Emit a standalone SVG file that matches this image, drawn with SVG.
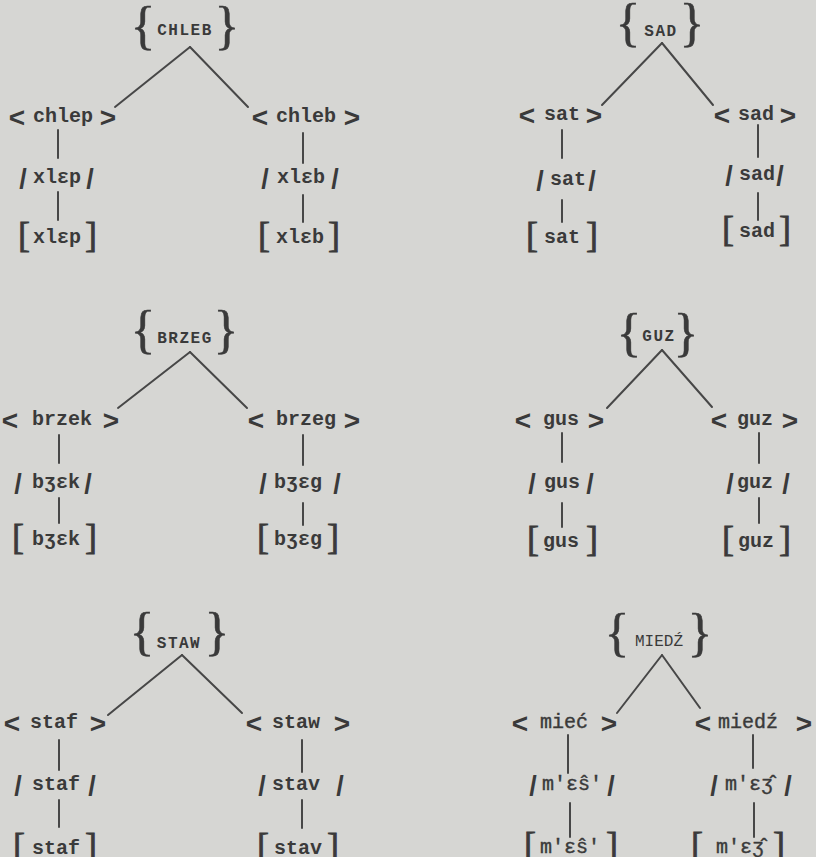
<svg xmlns="http://www.w3.org/2000/svg" width="816" height="857" viewBox="0 0 816 857">
<style>
.w{font-family:"Liberation Mono","DejaVu Sans Mono",monospace;font-size:20px;font-weight:bold;fill:#3a3a3a;text-anchor:middle}
.t{font-family:"Liberation Mono","DejaVu Sans Mono",monospace;font-size:20px;font-weight:normal;fill:#3a3a3a;stroke:#3a3a3a;stroke-width:0.4;text-anchor:middle}
.r{font-family:"Liberation Mono","DejaVu Sans Mono",monospace;font-size:16px;font-weight:bold;letter-spacing:1.5px;fill:#3a3a3a;text-anchor:middle}
.a{font-family:"Liberation Sans",Arial,sans-serif;font-size:28px;font-weight:bold;fill:#3a3a3a;text-anchor:middle}
.s{font-family:"Liberation Sans",Arial,sans-serif;font-size:27px;font-weight:bold;fill:#3a3a3a;text-anchor:middle}
.b{font-family:"Liberation Serif","Times New Roman",serif;font-size:36px;fill:#3a3a3a;stroke:#3a3a3a;stroke-width:0.8;text-anchor:middle}
.c{font-family:"Liberation Serif","Times New Roman",serif;font-size:52px;fill:#3a3a3a;stroke:#3a3a3a;stroke-width:0.5;text-anchor:middle}
.e{stroke:#474747;stroke-width:2;fill:none;stroke-linecap:round}
</style>
<rect x="0" y="0" width="816" height="857" fill="#d6d6d3"/>

<g id="connectors">
<line class="e" x1="190" y1="47" x2="115" y2="107"/>
<line class="e" x1="190" y1="47" x2="248" y2="107"/>
<line class="e" x1="58" y1="130" x2="58" y2="158"/>
<line class="e" x1="303" y1="133" x2="303" y2="163"/>
<line class="e" x1="58" y1="192" x2="58" y2="220"/>
<line class="e" x1="303" y1="195" x2="303" y2="222"/>
<line class="e" x1="662" y1="43" x2="602" y2="105"/>
<line class="e" x1="662" y1="43" x2="713" y2="105"/>
<line class="e" x1="562" y1="130" x2="562" y2="158"/>
<line class="e" x1="758" y1="125" x2="758" y2="157"/>
<line class="e" x1="562" y1="200" x2="562" y2="222"/>
<line class="e" x1="758" y1="193" x2="758" y2="220"/>
<line class="e" x1="190" y1="352" x2="118" y2="408"/>
<line class="e" x1="190" y1="352" x2="247" y2="408"/>
<line class="e" x1="59" y1="435" x2="59" y2="463"/>
<line class="e" x1="303" y1="435" x2="303" y2="465"/>
<line class="e" x1="59" y1="498" x2="59" y2="523"/>
<line class="e" x1="303" y1="503" x2="303" y2="525"/>
<line class="e" x1="662" y1="350" x2="607" y2="408"/>
<line class="e" x1="662" y1="350" x2="712" y2="407"/>
<line class="e" x1="562" y1="433" x2="562" y2="462"/>
<line class="e" x1="759" y1="433" x2="759" y2="463"/>
<line class="e" x1="562" y1="503" x2="562" y2="527"/>
<line class="e" x1="759" y1="498" x2="759" y2="523"/>
<line class="e" x1="182" y1="655" x2="108" y2="715"/>
<line class="e" x1="182" y1="655" x2="242" y2="713"/>
<line class="e" x1="59" y1="740" x2="59" y2="770"/>
<line class="e" x1="302" y1="740" x2="302" y2="772"/>
<line class="e" x1="59" y1="800" x2="59" y2="827"/>
<line class="e" x1="302" y1="800" x2="302" y2="828"/>
<line class="e" x1="662" y1="655" x2="617" y2="713"/>
<line class="e" x1="662" y1="655" x2="700" y2="708"/>
<line class="e" x1="568" y1="735" x2="568" y2="773"/>
<line class="e" x1="753" y1="735" x2="753" y2="768"/>
<line class="e" x1="570" y1="803" x2="570" y2="837"/>
<line class="e" x1="754" y1="803" x2="754" y2="837"/>
</g>

<g id="chleb-root"><text class="c" x="143" y="43">{</text><text class="r" x="185" y="35">CHLEB</text><text class="c" x="227" y="43">}</text></g>
<g id="chleb-m1"><text class="a" x="17" y="127">&lt;</text><text class="w" x="63" y="122">chlep</text><text class="a" x="108" y="127">&gt;</text></g>
<g id="chleb-m2"><text class="a" x="260" y="127">&lt;</text><text class="w" x="306" y="122">chleb</text><text class="a" x="352" y="127">&gt;</text></g>
<g id="chleb-p1"><text class="s" x="23" y="188">/</text><text class="w" x="57" y="183">xlɛp</text><text class="s" x="90" y="188">/</text></g>
<g id="chleb-p2"><text class="s" x="265" y="188">/</text><text class="w" x="301" y="183">xlɛb</text><text class="s" x="335" y="188">/</text></g>
<g id="chleb-f1"><text class="b" x="24" y="247">[</text><text class="w" x="57" y="243">xlɛp</text><text class="b" x="91" y="247">]</text></g>
<g id="chleb-f2"><text class="b" x="264" y="247">[</text><text class="w" x="300" y="243">xlɛb</text><text class="b" x="334" y="247">]</text></g>

<g id="sad-root"><text class="c" x="628" y="40">{</text><text class="r" x="661" y="36">SAD</text><text class="c" x="692" y="40">}</text></g>
<g id="sad-m1"><text class="a" x="527" y="125">&lt;</text><text class="w" x="562" y="120">sat</text><text class="a" x="594" y="125">&gt;</text></g>
<g id="sad-m2"><text class="a" x="722" y="125">&lt;</text><text class="w" x="756" y="120">sad</text><text class="a" x="788" y="125">&gt;</text></g>
<g id="sad-p1"><text class="s" x="540" y="190">/</text><text class="w" x="568" y="185">sat</text><text class="s" x="592" y="190">/</text></g>
<g id="sad-p2"><text class="s" x="729" y="185">/</text><text class="w" x="757" y="180">sad</text><text class="s" x="780" y="185">/</text></g>
<g id="sad-f1"><text class="b" x="532" y="247">[</text><text class="w" x="562" y="243">sat</text><text class="b" x="592" y="247">]</text></g>
<g id="sad-f2"><text class="b" x="728" y="241">[</text><text class="w" x="757" y="237">sad</text><text class="b" x="785" y="241">]</text></g>

<g id="brzeg-root"><text class="c" x="143" y="347">{</text><text class="r" x="185" y="343">BRZEG</text><text class="c" x="226" y="347">}</text></g>
<g id="brzeg-m1"><text class="a" x="10" y="430">&lt;</text><text class="w" x="62" y="425">brzek</text><text class="a" x="111" y="430">&gt;</text></g>
<g id="brzeg-m2"><text class="a" x="256" y="430">&lt;</text><text class="w" x="306" y="425">brzeg</text><text class="a" x="352" y="430">&gt;</text></g>
<g id="brzeg-p1"><text class="s" x="18" y="493">/</text><text class="w" x="56" y="488">bʒɛk</text><text class="s" x="88" y="493">/</text></g>
<g id="brzeg-p2"><text class="s" x="263" y="493">/</text><text class="w" x="298" y="488">bʒɛg</text><text class="s" x="337" y="493">/</text></g>
<g id="brzeg-f1"><text class="b" x="18" y="549">[</text><text class="w" x="56" y="545">bʒɛk</text><text class="b" x="91" y="549">]</text></g>
<g id="brzeg-f2"><text class="b" x="263" y="549">[</text><text class="w" x="298" y="545">bʒɛg</text><text class="b" x="333" y="549">]</text></g>

<g id="guz-root"><text class="c" x="629" y="350">{</text><text class="r" x="659" y="341">GUZ</text><text class="c" x="686" y="350">}</text></g>
<g id="guz-m1"><text class="a" x="523" y="430">&lt;</text><text class="w" x="561" y="425">gus</text><text class="a" x="596" y="430">&gt;</text></g>
<g id="guz-m2"><text class="a" x="719" y="430">&lt;</text><text class="w" x="755" y="425">guz</text><text class="a" x="790" y="430">&gt;</text></g>
<g id="guz-p1"><text class="s" x="532" y="493">/</text><text class="w" x="562" y="488">gus</text><text class="s" x="590" y="493">/</text></g>
<g id="guz-p2"><text class="s" x="730" y="493">/</text><text class="w" x="755" y="488">guz</text><text class="s" x="786" y="493">/</text></g>
<g id="guz-f1"><text class="b" x="533" y="551">[</text><text class="w" x="561" y="547">gus</text><text class="b" x="592" y="551">]</text></g>
<g id="guz-f2"><text class="b" x="728" y="551">[</text><text class="w" x="756" y="547">guz</text><text class="b" x="785" y="551">]</text></g>

<g id="staw-root"><text class="c" x="142" y="649">{</text><text class="r" x="179" y="648">STAW</text><text class="c" x="217" y="649">}</text></g>
<g id="staw-m1"><text class="a" x="12" y="733">&lt;</text><text class="w" x="54" y="728">staf</text><text class="a" x="98" y="733">&gt;</text></g>
<g id="staw-m2"><text class="a" x="254" y="733">&lt;</text><text class="w" x="296" y="728">staw</text><text class="a" x="342" y="733">&gt;</text></g>
<g id="staw-p1"><text class="s" x="18" y="795">/</text><text class="w" x="56" y="790">staf</text><text class="s" x="92" y="795">/</text></g>
<g id="staw-p2"><text class="s" x="262" y="795">/</text><text class="w" x="296" y="790">stav</text><text class="s" x="340" y="795">/</text></g>
<g id="staw-f1"><text class="b" x="19" y="858">[</text><text class="w" x="56" y="854">staf</text><text class="b" x="91" y="858">]</text></g>
<g id="staw-f2"><text class="b" x="263" y="858">[</text><text class="w" x="298" y="854">stav</text><text class="b" x="333" y="858">]</text></g>

<g id="miedz-root"><text class="c" x="617" y="650">{</text><text class="r" x="659" y="646" style="font-weight:normal;letter-spacing:0px">MIEDŹ</text><text class="c" x="700" y="650">}</text></g>
<g id="miedz-m1"><text class="a" x="520" y="733">&lt;</text><text class="t" x="564" y="728">mieć</text><text class="a" x="609" y="733">&gt;</text></g>
<g id="miedz-m2"><text class="a" x="703" y="733">&lt;</text><text class="t" x="748" y="728">miedź</text><text class="a" x="804" y="733">&gt;</text></g>
<g id="miedz-p1"><text class="s" x="533" y="795">/</text><text class="t" x="572" y="790">m'ɛŝ'</text><text class="s" x="611" y="795">/</text></g>
<g id="miedz-p2"><text class="s" x="714" y="795">/</text><text class="t" x="749" y="790">m'ɛʒ̂</text><text class="s" x="788" y="795">/</text></g>
<g id="miedz-f1"><text class="b" x="530" y="857">[</text><text class="t" x="570" y="853">m'ɛŝ'</text><text class="b" x="612" y="857">]</text></g>
<g id="miedz-f2"><text class="b" x="697" y="857">[</text><text class="t" x="740" y="853">m'ɛʒ̂</text><text class="b" x="779" y="857">]</text></g>
</svg>
